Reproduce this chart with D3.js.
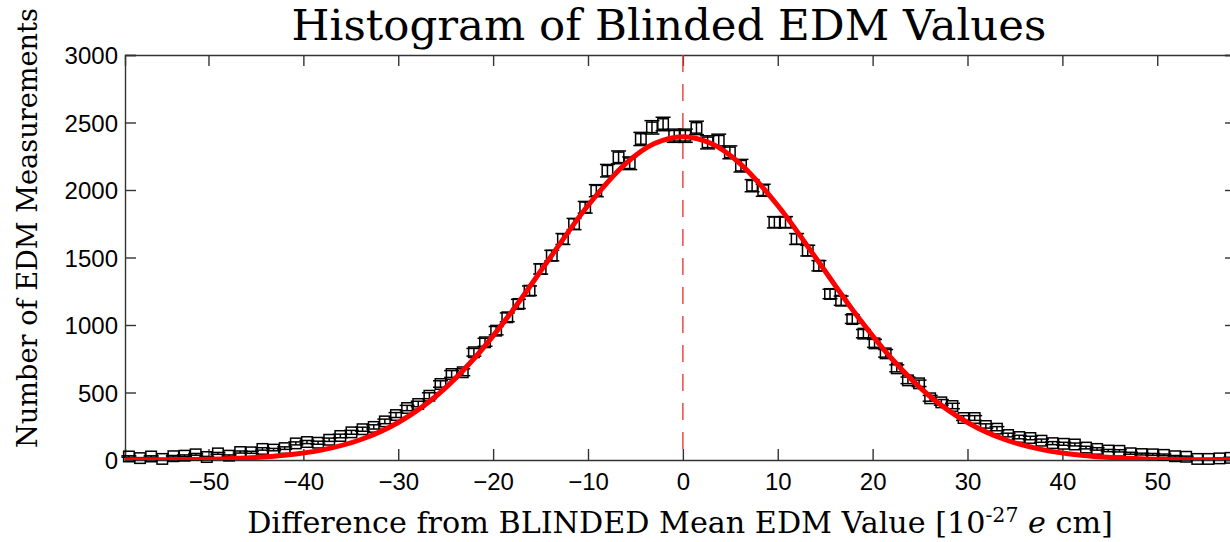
<!DOCTYPE html>
<html><head><meta charset="utf-8">
<script src="https://cdn.jsdelivr.net/npm/d3@7"></script>
<style>body{margin:0;background:#fff;} svg{display:block;}</style>
</head><body>
<svg id="c" width="1230" height="542"></svg>
<script>
// Histogram counts per bin, left to right
const counts = [26, 14, 26, 8, 28, 32, 42, 22, 49, 32,
  59, 57, 82, 77, 88, 123, 133, 128, 150, 178,
  205, 228, 245, 286, 333, 385, 415, 476, 563, 637,
  650, 798, 872, 958, 1057, 1156, 1254, 1415, 1514, 1637,
  1748, 1872, 1995, 2143, 2242, 2198, 2378, 2464, 2489, 2402,
  2402, 2460, 2353, 2365, 2279, 2180, 2032, 1998, 1761, 1761,
  1637, 1551, 1439, 1230, 1180, 1044, 936, 864, 790, 679,
  590, 568, 457, 427, 400, 311, 311, 252, 232, 185,
  170, 163, 143, 125, 120, 115, 92, 82, 70, 68,
  50, 44, 42, 38, 28, 24, 8, 8, 12, 16];
const binStart = -58.39;   // centre of first bin
const binWidth = 1.173;    // bin spacing
// Gaussian fit curve
const fitX = [-60, -58, -54, -50, -46, -42, -38, -34, -30, -26, -22, -18, -14, -10, -6, -3, 0,
  3, 6, 10, 14, 18, 22, 26, 30, 34, 38, 42, 46, 50, 54, 58, 60];
const fitY = [0, 1, 2, 6, 15, 35, 75, 150, 278, 474, 752, 1102, 1498, 1885, 2197, 2344, 2395,
  2344, 2197, 1885, 1498, 1102, 752, 474, 278, 150, 75, 35, 15, 6, 2, 1, 0];
const xTicks = [-50, -40, -30, -20, -10, 0, 10, 20, 30, 40, 50];
const yTicks = [0, 500, 1000, 1500, 2000, 2500, 3000];
const xDomain = [-58.8, 58.3];
const yDomain = [0, 3000];
const titleText = "Histogram of Blinded EDM Values";
const yLabelText = "Number of EDM Measurements";

const svg = d3.select("#c");
const L = 125, R = 1236, T = 55, B = 460;
const x = d3.scaleLinear().domain(xDomain).range([L, R]);
const y = d3.scaleLinear().domain(yDomain).range([B, T]);
const axisColor = "#333";
const tickFont = "'Liberation Sans', Arial, sans-serif";
const serif = "'DejaVu Serif', 'Liberation Serif', serif";

svg.append("clipPath").attr("id", "clip").append("rect")
  .attr("x", L).attr("y", T).attr("width", R - L).attr("height", B - T);

// axes with inward ticks
const fmt = d => (d < 0 ? "\u2212" + Math.abs(d) : String(d));
const gB = svg.append("g").attr("transform", `translate(0,${B})`)
  .call(d3.axisBottom(x).tickValues(xTicks).tickSize(-11).tickPadding(8).tickFormat(fmt));
const gT = svg.append("g").attr("transform", `translate(0,${T})`)
  .call(d3.axisTop(x).tickValues(xTicks).tickSize(-11).tickFormat(""));
const gL = svg.append("g").attr("transform", `translate(${L},0)`)
  .call(d3.axisLeft(y).tickValues(yTicks).tickSize(-11).tickPadding(7).tickFormat(d => d));
const gR = svg.append("g").attr("transform", `translate(${R},0)`)
  .call(d3.axisRight(y).tickValues(yTicks).tickSize(-11).tickFormat(""));
[gB, gT, gL, gR].forEach(g => {
  g.select(".domain").attr("stroke", axisColor).attr("stroke-width", 1.4);
  g.selectAll(".tick line").attr("stroke", axisColor).attr("stroke-width", 1.4);
  g.selectAll("text").attr("font-family", tickFont).attr("font-size", 24).attr("fill", "#000");
});
gB.selectAll(".tick text").attr("dy", "0.9em");
gL.selectAll(".tick text").attr("dy", "0.36em");

// dashed zero line
svg.append("line")
  .attr("x1", x(0)).attr("x2", x(0)).attr("y1", T).attr("y2", B)
  .attr("stroke", "#f03a3a").attr("stroke-width", 1.4).attr("stroke-dasharray", "17,12");

// data: error bars + square markers
const data = counts.map((c, i) => ({ x: binStart + i * binWidth, v: c, e: Math.sqrt(c) }));
const pts = svg.append("g").attr("stroke", "#000").attr("stroke-width", 1.5).attr("fill", "none");
const cap = 7.5;
const sq = 10.5;
const gp = pts.selectAll("g").data(data).join("g");
gp.append("line").attr("x1", d => x(d.x)).attr("x2", d => x(d.x))
  .attr("y1", d => y(d.v - d.e)).attr("y2", d => y(d.v + d.e));
gp.append("line").attr("x1", d => x(d.x) - cap).attr("x2", d => x(d.x) + cap)
  .attr("y1", d => y(d.v + d.e)).attr("y2", d => y(d.v + d.e));
gp.append("line").attr("x1", d => x(d.x) - cap).attr("x2", d => x(d.x) + cap)
  .attr("y1", d => y(d.v - d.e)).attr("y2", d => y(d.v - d.e));
gp.append("rect").attr("x", d => x(d.x) - sq / 2).attr("y", d => y(d.v) - sq / 2)
  .attr("width", sq).attr("height", sq);

// fit curve
const line = d3.line().x((d, i) => x(fitX[i])).y(d => y(d)).curve(d3.curveCatmullRom);
svg.append("path").attr("clip-path", "url(#clip)").datum(fitY)
  .attr("d", line).attr("fill", "none").attr("stroke", "#ff0000").attr("stroke-width", 5);

// texts
function fitWidth(sel, target) {
  const w = sel.node().getBBox().width;
  const fs = parseFloat(sel.attr("font-size"));
  sel.attr("font-size", fs * target / w);
}
const title = svg.append("text").attr("x", 669).attr("y", 40).attr("text-anchor", "middle")
  .attr("font-family", serif).attr("font-size", 34).attr("fill", "#000").text(titleText);
fitWidth(title, 755);

const yl = svg.append("text").attr("transform", "translate(37,228) rotate(-90)")
  .attr("text-anchor", "middle").attr("font-family", serif).attr("font-size", 26)
  .attr("fill", "#000").text(yLabelText);
fitWidth(yl, 440);

const xl = svg.append("text").attr("x", 680).attr("y", 533).attr("text-anchor", "middle")
  .attr("font-family", serif).attr("font-size", 25).attr("fill", "#000");
xl.append("tspan").text("Difference from BLINDED Mean EDM Value [10");
xl.append("tspan").attr("font-size", "0.68em").attr("dy", "-0.55em").text("-27");
xl.append("tspan").attr("dy", "0.37em").text(" ");
xl.append("tspan").attr("font-style", "italic").text("e");
xl.append("tspan").text(" cm]");
fitWidth(xl, 866);
</script>
</body></html>
